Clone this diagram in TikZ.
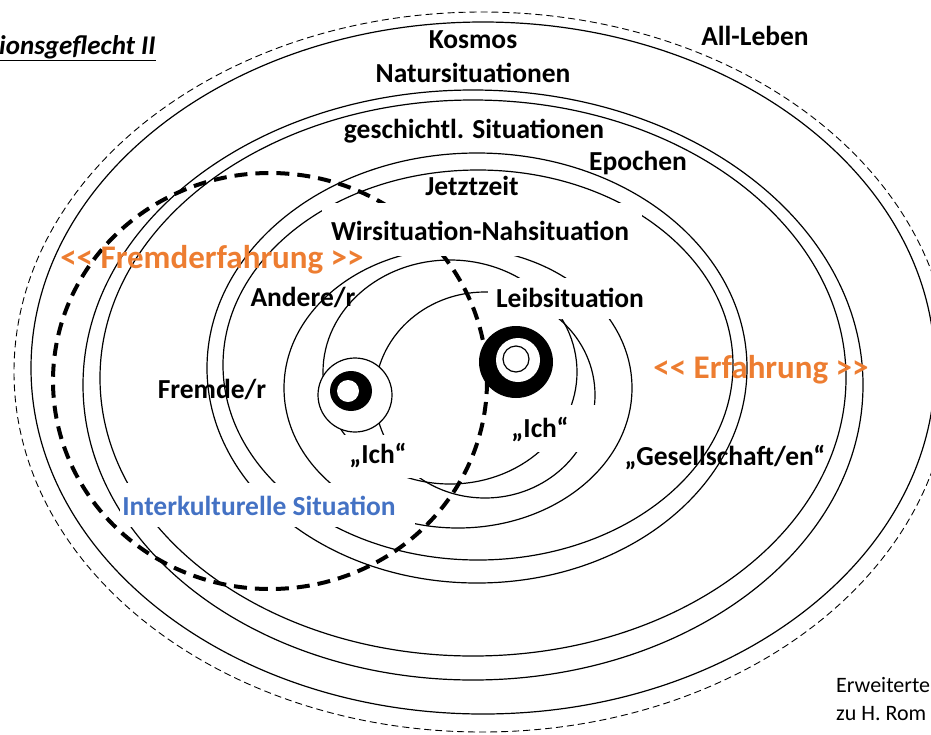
\documentclass[tikz,border=0pt]{standalone}
\usepackage{fontspec}
\setmainfont{Carlito}
\usetikzlibrary{positioning}
\definecolor{erforange}{RGB}{237,125,49}
\definecolor{kulturblau}{RGB}{68,114,196}

\begin{document}
\begin{tikzpicture}[x=1pt, y=-1pt]
\tikzstyle{every node}=[inner sep=0pt, anchor=base]
\tikzstyle{lab}=[font=\fontsize{27.5}{32}\selectfont\bfseries]
\tikzstyle{erflab}=[font=\fontsize{33}{38}\selectfont\bfseries, text=erforange]
\tikzstyle{ring}=[line width=1.2pt]
\clip (0,0) rectangle (931,734);
% grosse Ellipsen
\draw[line width=0.9pt, dash pattern=on 7pt off 4pt] (482,372) ellipse (468 and 360);
\draw[ring] (483,368) ellipse (452 and 346);
\draw[ring] (473,385) ellipse (390 and 295);
\draw[ring] (473,378) ellipse (373 and 278);
\draw[ring] (477,368) ellipse (270 and 215);
\draw[ring] (478,365) ellipse (255 and 195);
% Ringe um die beiden Ich
\draw[ring] (450,372) ellipse (127 and 112);
\draw[ring] (485,395) ellipse (110 and 103);
\draw[ring] (458,388) ellipse (174 and 140);
% Fremderfahrung
\draw[line width=4pt, dash pattern=on 13pt off 8pt] (270,381) ellipse (217 and 208);
% weisse Flaechen unter den Texten
\fill[white] (322,203) rectangle (642,256);
\fill[white] (488,278) rectangle (650,319);
\fill[white] (500,405) rectangle (598,452);
\fill[white] (340,435) rectangle (428,478);
\fill[white] (120,483) rectangle (415,527);
% Ich
\fill (516,362) ellipse (37 and 36);
\fill[white] (518,360) circle (22);
\draw[ring] (516,359) circle (13);
\draw[ring, fill=white] (355,395) circle (37);
\fill (351,391) ellipse (21 and 20);
\fill[white] (348,391) circle (11);
% Texte
\node[font=\fontsize{27}{31}\selectfont\bfseries\itshape, anchor=base west] (titel) at (-1,54) {\underline{ionsgeflecht II}};
\node[lab] (kosmos) at (473,48) {Kosmos};
\node[lab] (natur) at (473,82) {Natursituationen};
\node[lab] (allleben) at (755,45) {All-Leben};
\node[lab] (geschichte) at (474,138) {geschichtl. Situationen};
\node[lab] (epochen) at (638,170) {Epochen};
\node[lab] (jetzt) at (472,195) {Jetztzeit};
\node[lab] (wir) at (480,240) {Wirsituation-Nahsituation};
\node[erflab] (fremderf) at (212,268) {<{}< Fremderfahrung >{}>};
\node[lab] (andere) at (303,306) {Andere/r};
\node[lab] (leib) at (570,307) {Leibsituation};
\node[erflab] (erf) at (761,378) {<{}< Erfahrung >{}>};
\node[lab] (fremde) at (212,398) {Fremde/r};
\node[lab] (ichL) at (378,463) {„Ich“};
\node[lab] (ichR) at (540,437) {„Ich“};
\node[lab] (gesellschaft) at (725,465) {„Gesellschaft/en“};
\node[lab, text=kulturblau] (interkult) at (259,515) {Interkulturelle Situation};
\node[font=\fontsize{22}{26}\selectfont, anchor=base west] (notiz1) at (836,692) {Erweiterte};
\node[font=\fontsize{22}{26}\selectfont, anchor=base west] (notiz2) at (836,720) {zu H. Rom};
\end{tikzpicture}
\end{document}
